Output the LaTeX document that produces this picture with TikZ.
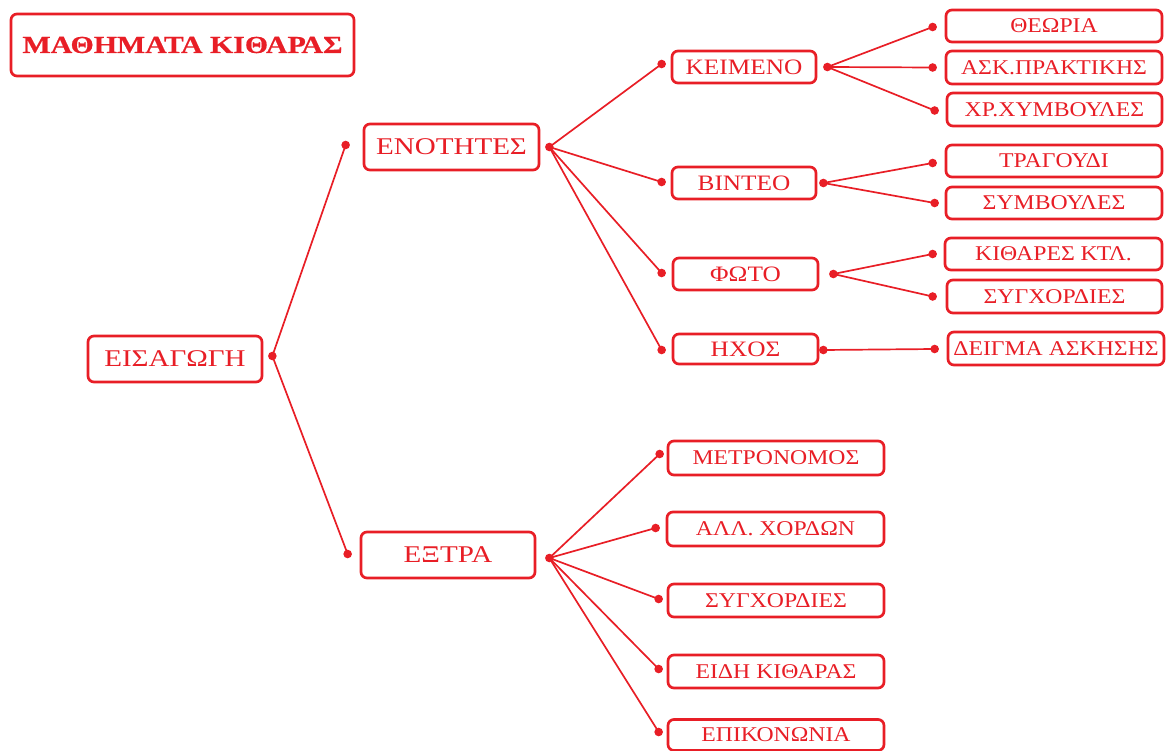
\documentclass[tikz,border=0pt]{standalone}
\usepackage{fontspec}
\setmainfont{Liberation Serif}
\newfontfamily\boxfont[FakeStretch=1.13]{Liberation Serif}
\newfontfamily\midfont[FakeStretch=1.15]{Liberation Serif}
\newfontfamily\bigfont[FakeStretch=1.21]{Liberation Serif}
\newfontfamily\titlefont[FakeStretch=1.22,FakeBold=0.6]{Liberation Serif Bold}
\definecolor{rd}{RGB}{232,30,38}
\tikzset{
  bx/.style={draw=rd, line width=2.7pt, rounded corners=6pt, text=rd, inner sep=0pt, align=center},
  lvlone/.style={bx, minimum width=174pt, minimum height=46pt, font=\bigfont\fontsize{24}{28}\selectfont},
  lvltwo/.style={bx, minimum width=145pt, minimum height=32pt, font=\midfont\fontsize{22}{25}\selectfont},
  leaf/.style={bx, minimum width=216pt, minimum height=33pt, font=\boxfont\fontsize{21}{24}\selectfont},
  conn/.style={draw=rd, line width=1.7pt},
  dotc/.style={fill=rd}
}
\begin{document}
\begin{tikzpicture}[x=1pt,y=-1pt]
\useasboundingbox (0,0) rectangle (1166,751);
% title
\node[bx, minimum width=343pt, minimum height=62pt, font=\titlefont\fontsize{24.5}{28}\selectfont] (title) at (182.5,45) {ΜΑΘΗΜΑΤΑ ΚΙΘΑΡΑΣ};
% level one
\node[lvlone] (eis) at (175,359) {ΕΙΣΑΓΩΓΗ};
\node[lvlone, minimum width=175pt] (enot) at (451.5,147) {ΕΝΟΤΗΤΕΣ};
\node[lvlone] (extra) at (448,555) {ΕΞΤΡΑ};
% level two
\node[lvltwo, minimum width=144pt] (keim) at (744,67) {ΚΕΙΜΕΝΟ};
\node[lvltwo, minimum width=144pt] (vid) at (744,183) {ΒΙΝΤΕΟ};
\node[lvltwo] (foto) at (745.5,274) {ΦΩΤΟ};
\node[lvltwo, minimum height=30pt] (ixos) at (745.5,349) {ΗΧΟΣ};
% leaves
\node[leaf, minimum height=32pt] (theo) at (1054,26) {ΘΕΩΡΙΑ};
\node[leaf] (ask) at (1054,67.5) {ΑΣΚ.ΠΡΑΚΤΙΚΗΣ};
\node[leaf, minimum width=215pt] (xr) at (1054.5,109.5) {ΧΡ.ΧΥΜΒΟΥΛΕΣ};
\node[leaf, minimum height=32pt] (trag) at (1054,161) {ΤΡΑΓΟΥΔΙ};
\node[leaf, minimum height=32pt] (symv) at (1054,203) {ΣΥΜΒΟΥΛΕΣ};
\node[leaf, minimum width=217pt, minimum height=32pt] (kith) at (1053.5,254) {ΚΙΘΑΡΕΣ ΚΤΛ.};
\node[leaf, minimum width=215pt] (sygxa) at (1054.5,296.5) {ΣΥΓΧΟΡΔΙΕΣ};
\node[leaf] (deig) at (1056,348.5) {ΔΕΙΓΜΑ ΑΣΚΗΣΗΣ};
\node[leaf, minimum height=34pt] (metr) at (776,458) {ΜΕΤΡΟΝΟΜΟΣ};
\node[leaf, minimum width=217pt, minimum height=34pt] (allx) at (775.5,529) {ΑΛΛ. ΧΟΡΔΩΝ};
\node[leaf] (sygxb) at (776,600.5) {ΣΥΓΧΟΡΔΙΕΣ};
\node[leaf] (eidi) at (776,671.5) {ΕΙΔΗ ΚΙΘΑΡΑΣ};
\node[leaf, minimum height=31pt] (epik) at (776,735) {ΕΠΙΚΟΝΩΝΙΑ};
% dot coordinates
\coordinate (eisR) at ([xshift=9pt,yshift=3pt]eis.east);
\coordinate (enotL) at ([xshift=-17pt,yshift=2pt]enot.west);
\coordinate (enotR) at ([xshift=9pt]enot.east);
\coordinate (extraL) at ([xshift=-12pt,yshift=1pt]extra.west);
\coordinate (extraR) at ([xshift=13pt,yshift=-3pt]extra.east);
\coordinate (keimL) at ([xshift=-9pt,yshift=3pt]keim.west);
\coordinate (keimR) at ([xshift=10pt]keim.east);
\coordinate (vidL) at ([xshift=-9pt,yshift=1pt]vid.west);
\coordinate (vidR) at ([xshift=6pt]vid.east);
\coordinate (fotoL) at ([xshift=-10pt,yshift=1pt]foto.west);
\coordinate (fotoR) at ([xshift=14pt]foto.east);
\coordinate (ixosL) at ([xshift=-10pt,yshift=-1pt]ixos.west);
\coordinate (ixosR) at ([xshift=4pt,yshift=-1pt]ixos.east);
\coordinate (theoL) at ([xshift=-12pt,yshift=-1pt]theo.west);
\coordinate (askL) at ([xshift=-12pt]ask.west);
\coordinate (xrL) at ([xshift=-11pt,yshift=-1pt]xr.west);
\coordinate (tragL) at ([xshift=-12pt,yshift=-2pt]trag.west);
\coordinate (symvL) at ([xshift=-10pt]symv.west);
\coordinate (kithL) at ([xshift=-11pt]kith.west);
\coordinate (sygxaL) at ([xshift=-13pt]sygxa.west);
\coordinate (deigL) at ([xshift=-12pt,yshift=-0.5pt]deig.west);
\coordinate (metrL) at ([xshift=-7pt,yshift=4pt]metr.west);
\coordinate (allxL) at ([xshift=-10pt,yshift=1pt]allx.west);
\coordinate (sygxbL) at ([xshift=-8pt,yshift=1.5pt]sygxb.west);
\coordinate (eidiL) at ([xshift=-8pt,yshift=2.5pt]eidi.west);
\coordinate (epikL) at ([xshift=-8pt,yshift=3pt]epik.west);
% connectors
\draw[conn] (eisR) -- (enotL);
\draw[conn] (eisR) -- (extraL);
\foreach \t in {keimL,vidL,fotoL,ixosL} \draw[conn] (enotR) -- (\t);
\foreach \t in {metrL,allxL,sygxbL,eidiL,epikL} \draw[conn] (extraR) -- (\t);
\foreach \t in {theoL,askL,xrL} \draw[conn] (keimR) -- (\t);
\foreach \t in {tragL,symvL} \draw[conn] (vidR) -- (\t);
\foreach \t in {kithL,sygxaL} \draw[conn] (fotoR) -- (\t);
\draw[conn] (ixosR) -- (deigL);
% dots
\foreach \p in {eisR,enotL,enotR,extraL,extraR,keimL,keimR,vidL,vidR,fotoL,fotoR,ixosL,ixosR,theoL,askL,xrL,tragL,symvL,kithL,sygxaL,deigL,metrL,allxL,sygxbL,eidiL,epikL}
  \fill[dotc] (\p) circle (4.3pt);
\end{tikzpicture}
\end{document}
